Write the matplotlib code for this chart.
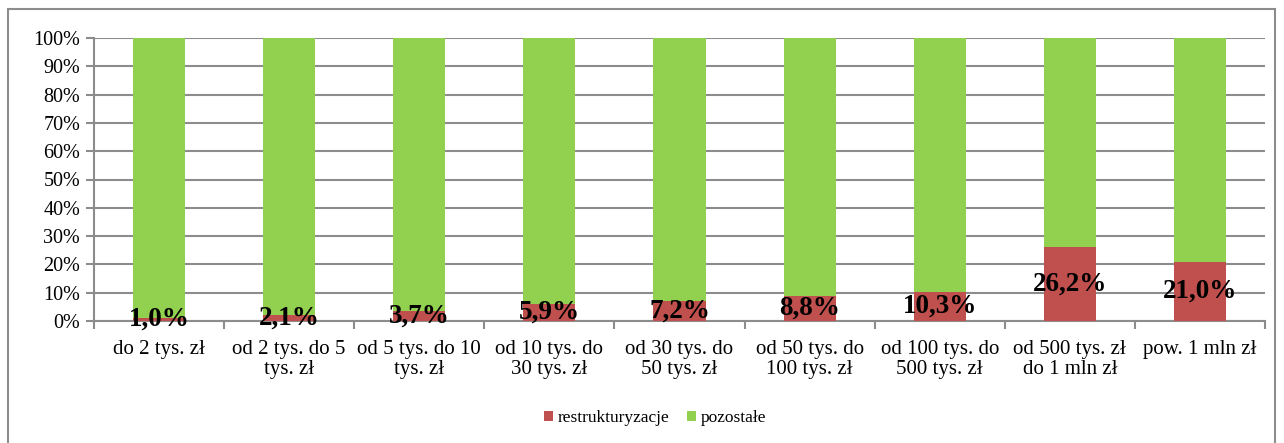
import numpy as np
import matplotlib
matplotlib.use("Agg")
import matplotlib.pyplot as plt
from matplotlib.patches import Rectangle
from matplotlib.ticker import FixedLocator, FuncFormatter

plt.rcParams['font.family'] = ['Liberation Serif', 'DejaVu Serif']

categories = ["do 2 tys. zł", "od 2 tys. do 5\ntys. zł", "od 5 tys. do 10\ntys. zł",
              "od 10 tys. do\n30 tys. zł", "od 30 tys. do\n50 tys. zł", "od 50 tys. do\n100 tys. zł",
              "od 100 tys. do\n500 tys. zł", "od 500 tys. zł\ndo 1 mln zł", "pow. 1 mln zł"]
restrukturyzacje = [1.0, 2.1, 3.7, 5.9, 7.2, 8.8, 10.3, 26.2, 21.0]
pozostale = [100 - v for v in restrukturyzacje]

red = "#C0504D"
green = "#92D050"
grid_col = "#8C8C8C"

fig = plt.figure(figsize=(12.84, 4.43), dpi=100)
ax = fig.add_axes([94 / 1284, 1 - 321 / 443, (1265 - 94) / 1284, (321 - 38) / 443])

x = np.arange(len(categories))
ax.bar(x, restrukturyzacje, width=0.4, color=red, label="restrukturyzacje", zorder=3)
ax.bar(x, pozostale, width=0.4, bottom=restrukturyzacje, color=green, label="pozostałe", zorder=3)

for xi, v in zip(x, restrukturyzacje):
    ax.text(xi, v / 2, f"{v:.1f}%".replace(".", ","), ha="center", va="center",
            fontsize=19.5, fontweight="bold", zorder=4)

ax.set_xlim(-0.5, len(categories) - 0.5)
ax.set_ylim(0, 100)
ax.set_yticks(np.arange(0, 101, 10))
ax.yaxis.set_major_formatter(FuncFormatter(lambda v, p: f"{int(v)}%"))
ax.yaxis.grid(True, color=grid_col, linewidth=1.5, zorder=0)

ax.set_xticks(x)
ax.set_xticklabels(categories, fontsize=15, linespacing=1.05)
ax.xaxis.set_minor_locator(FixedLocator(np.arange(-0.5, len(categories), 1.0)))
ax.tick_params(axis="x", which="major", length=0, pad=14)
ax.tick_params(axis="x", which="minor", length=6, color=grid_col, width=1.5)
ax.tick_params(axis="y", length=6, color=grid_col, width=1.5, labelsize=14.5, pad=4)

for s in ["top", "right"]:
    ax.spines[s].set_visible(False)
for s in ["left", "bottom"]:
    ax.spines[s].set_color(grid_col)
    ax.spines[s].set_linewidth(1.5)

leg = fig.legend(loc="center", bbox_to_anchor=(655 / 1284, 1 - 418 / 443), ncol=2, frameon=False,
                 fontsize=12.5, handlelength=0.55, handleheight=0.55, handletextpad=0.25,
                 columnspacing=1.0)

fig.patches.append(Rectangle((8 / 1284, -0.05), (1275 - 8) / 1284, 1.05 - 9 / 443,
                             transform=fig.transFigure, fill=False, edgecolor="#8C8C8C",
                             linewidth=1.5))

fig.savefig("out.png", dpi=100)
